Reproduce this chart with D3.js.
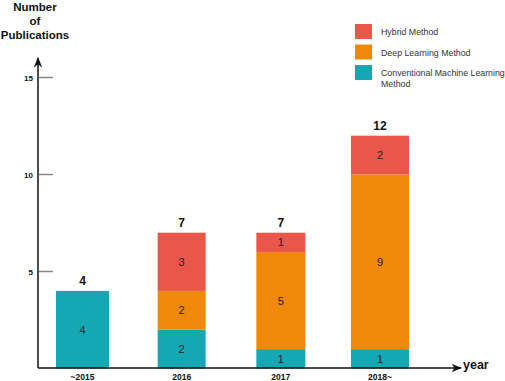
<!DOCTYPE html>
<html>
<head>
<meta charset="utf-8">
<script src="https://cdn.jsdelivr.net/npm/d3@7"></script>
<style>
  body { margin: 0; background: #fff; }
  svg { display: block; font-family: "Liberation Sans", Arial, sans-serif; }
</style>
</head>
<body>
<div id="chart"></div>
<script>
// data
const periods = ["~2015", "2016", "2017", "2018~"];
const conventional = [4, 2, 1, 1];
const deepLearning = [0, 2, 5, 9];
const hybrid = [0, 3, 1, 2];
const yTicks = [5, 10, 15];
const methods = ["Hybrid Method", "Deep Learning Method", "Conventional Machine Learning Method"];

const colors = { conventional: "#15a8b4", deep: "#f0890a", hybrid: "#e8574a" };
const barWidths = { "~2015": 53, "2016": 48, "2017": 49, "2018~": 58 };

const width = 505, height = 381;
const axisX = 38, axisY = 368;

const svg = d3.select("#chart").append("svg")
    .attr("width", width)
    .attr("height", height);

const defs = svg.append("defs");
defs.append("marker")
    .attr("id", "arrow")
    .attr("viewBox", "0 0 10 10")
    .attr("refX", 9).attr("refY", 5)
    .attr("markerWidth", 7).attr("markerHeight", 7)
    .attr("orient", "auto")
    .append("path")
    .attr("d", "M0,1 L10,5 L0,9 L3,5 Z")
    .attr("fill", "#111");

const x = d3.scalePoint().domain(periods).range([82.5, 380]);
const y = d3.scaleLinear().domain([0, 15]).range([368.5, 77.5]);

const rows = periods.map((p, i) => ({
    period: p,
    conventional: conventional[i],
    deep: deepLearning[i],
    hybrid: hybrid[i]
}));
const keys = ["conventional", "deep", "hybrid"];
const stack = d3.stack().keys(keys)(rows);

// bars
const layers = svg.append("g").selectAll("g")
    .data(stack)
    .enter().append("g")
    .attr("fill", d => colors[d.key]);

layers.selectAll("rect")
    .data(d => d.filter(s => s[1] > s[0]))
    .enter().append("rect")
    .attr("x", d => x(d.data.period) - barWidths[d.data.period] / 2)
    .attr("width", d => barWidths[d.data.period])
    .attr("y", d => y(d[1]))
    .attr("height", d => y(d[0]) - y(d[1]));

layers.selectAll("text")
    .data(d => d.filter(s => s[1] > s[0]))
    .enter().append("text")
    .attr("x", d => x(d.data.period))
    .attr("y", d => (y(d[0]) + y(d[1])) / 2 + 4)
    .attr("text-anchor", "middle")
    .attr("fill", "#222")
    .style("font-size", "11px")
    .text(d => d[1] - d[0]);

// totals
svg.append("g").selectAll("text")
    .data(rows)
    .enter().append("text")
    .attr("x", d => x(d.period))
    .attr("y", d => y(d.conventional + d.deep + d.hybrid) - 6)
    .attr("text-anchor", "middle")
    .attr("fill", "#111")
    .style("font-size", "12px")
    .style("font-weight", "bold")
    .text(d => d.conventional + d.deep + d.hybrid);

// axes
svg.append("line")
    .attr("x1", axisX).attr("y1", axisY)
    .attr("x2", axisX).attr("y2", 58)
    .attr("stroke", "#111").attr("stroke-width", 1.5)
    .attr("marker-end", "url(#arrow)");
svg.append("line")
    .attr("x1", axisX).attr("y1", axisY)
    .attr("x2", 461).attr("y2", axisY)
    .attr("stroke", "#111").attr("stroke-width", 1.5)
    .attr("marker-end", "url(#arrow)");

const ticks = svg.append("g");
ticks.selectAll("line")
    .data(yTicks)
    .enter().append("line")
    .attr("x1", axisX + 1).attr("x2", 53)
    .attr("y1", d => y(d)).attr("y2", d => y(d))
    .attr("stroke", "#888").attr("stroke-width", 1.5);
ticks.selectAll("text")
    .data(yTicks)
    .enter().append("text")
    .attr("x", 33)
    .attr("y", d => y(d) + 3)
    .attr("text-anchor", "end")
    .attr("fill", "#111")
    .style("font-size", "8px")
    .style("font-weight", "bold")
    .text(d => d);

svg.append("g").selectAll("text")
    .data(periods)
    .enter().append("text")
    .attr("x", d => x(d))
    .attr("y", 380)
    .attr("text-anchor", "middle")
    .attr("fill", "#111")
    .style("font-size", "8.5px")
    .style("font-weight", "bold")
    .text(d => d);

svg.append("text")
    .attr("x", 463).attr("y", 369)
    .attr("fill", "#111")
    .style("font-size", "12.5px")
    .style("font-weight", "bold")
    .text("year");

const title = svg.append("text")
    .attr("text-anchor", "middle")
    .attr("fill", "#111")
    .style("font-size", "11.5px")
    .style("font-weight", "bold");
["Number", "of", "Publications"].forEach((t, i) => {
    title.append("tspan").attr("x", 35).attr("y", 11 + i * 14).text(t);
});

// legend
const legendKeys = ["hybrid", "deep", "conventional"];
const legend = svg.append("g");
legendKeys.forEach((k, i) => {
    const ly = 24 + i * 20.5;
    legend.append("rect")
        .attr("x", 355).attr("y", ly)
        .attr("width", 17).attr("height", 15)
        .attr("fill", colors[k]);
    const words = methods[i] === "Conventional Machine Learning Method"
        ? ["Conventional Machine Learning", "Method"]
        : [methods[i]];
    const txt = legend.append("text")
        .attr("fill", "#333")
        .style("font-size", "8.8px");
    words.forEach((w, j) => {
        txt.append("tspan")
            .attr("x", 381)
            .attr("y", ly + 11 + j * 11)
            .text(w);
    });
});
</script>
</body>
</html>
